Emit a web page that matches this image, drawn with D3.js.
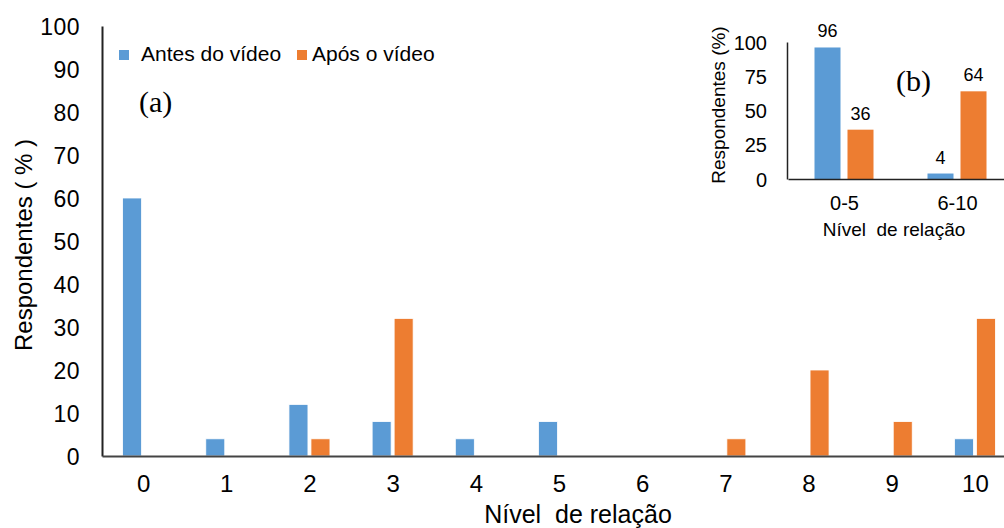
<!DOCTYPE html>
<html>
<head>
<meta charset="utf-8">
<script src="https://cdn.jsdelivr.net/npm/d3@7"></script>
<style>
  body { margin: 0; background: #fff; }
  text { font-family: "Liberation Sans", Arial, sans-serif; fill: #000; }
</style>
</head>
<body>
<script>
// main chart data
const levels = ["0", "1", "2", "3", "4", "5", "6", "7", "8", "9", "10"];
const antes = [60, 4, 12, 8, 4, 8, 0, 0, 0, 0, 4];
const apos = [0, 0, 4, 32, 0, 0, 0, 4, 20, 8, 32];
const yTicks = [0, 10, 20, 30, 40, 50, 60, 70, 80, 90, 100];

// inset data
const groups = ["0-5", "6-10"];
const antesGroup = [96, 4];
const aposGroup = [36, 64];
const insetTicks = [0, 25, 50, 75, 100];

const seriesNames = ["Antes do vídeo", "Após o vídeo"];
const blue = "#5b9bd5";
const orange = "#ed7d31";

const width = 1004;
const height = 528;
const svg = d3.select("body").append("svg").attr("width", width).attr("height", height);
const serif = "'Liberation Serif', 'Times New Roman', serif";

// ---- main chart ----
const x = d3.scaleBand().domain(levels).range([102, 1017]);
const y = d3.scaleLinear().domain([0, 100]).range([456, 26]);

const yAxis = svg.append("g").attr("transform", "translate(102,0)")
  .call(d3.axisLeft(y).tickValues(yTicks).tickSize(0).tickPadding(22));
yAxis.select(".domain").attr("stroke", "#222").attr("stroke-width", 2);
yAxis.selectAll("text").style("font-size", "23px").style("letter-spacing", "0.5px").attr("dy", "0.35em");

const bars = svg.append("g");
bars.selectAll(".antes").data(antes).enter().append("rect")
  .attr("x", (d, i) => x(levels[i]) + x.bandwidth() / 2 - 21)
  .attr("width", 19)
  .attr("y", d => y(d))
  .attr("height", d => y(0) - y(d))
  .attr("fill", blue).attr("stroke", "#fff").attr("stroke-width", 0.8);
bars.selectAll(".apos").data(apos).enter().append("rect")
  .attr("x", (d, i) => x(levels[i]) + x.bandwidth() / 2 + 1)
  .attr("width", 19)
  .attr("y", d => y(d))
  .attr("height", d => y(0) - y(d))
  .attr("fill", orange).attr("stroke", "#fff").attr("stroke-width", 0.8);

const xAxis = svg.append("g").attr("transform", "translate(0,456)")
  .call(d3.axisBottom(x).tickSize(0).tickPadding(19));
xAxis.select(".domain").attr("stroke", "#444").attr("stroke-width", 2);
xAxis.selectAll("text").style("font-size", "24px");

svg.append("text").attr("x", 578).attr("y", 523).attr("text-anchor", "middle")
  .style("font-size", "25px").attr("xml:space", "preserve").text("Nível  de relação");
svg.append("text").attr("transform", "translate(32,245) rotate(-90)").attr("text-anchor", "middle")
  .style("font-size", "24px").attr("xml:space", "preserve").text("Respondentes ( % )");

// legend
const legend = svg.append("g").attr("transform", "translate(119,55)");
const legendX = [0, 178];
const legendText = [22, 193];
legend.selectAll("rect").data(seriesNames).enter().append("rect")
  .attr("x", (d, i) => legendX[i]).attr("y", -5).attr("width", 10).attr("height", 10)
  .attr("fill", (d, i) => i === 0 ? blue : orange);
legend.selectAll("text").data(seriesNames).enter().append("text")
  .attr("x", (d, i) => legendText[i]).attr("y", 6)
  .style("font-size", "21px").text(d => d);

svg.append("text").attr("x", 139).attr("y", 112)
  .style("font-family", serif).style("font-size", "30px").text("(a)");

// ---- inset chart ----
const xi = d3.scaleBand().domain(groups).range([788, 1014]);
const yi = d3.scaleLinear().domain([0, 100]).range([179, 42]);

const yiAxis = svg.append("g").attr("transform", "translate(787,0)")
  .call(d3.axisLeft(yi).tickValues(insetTicks).tickSize(0).tickPadding(20));
yiAxis.select(".domain").attr("stroke", "#222").attr("stroke-width", 1.5);
yiAxis.selectAll("text").style("font-size", "20px").attr("dy", "0.35em");

const inset = svg.append("g");
inset.selectAll(".antes").data(antesGroup).enter().append("rect")
  .attr("x", (d, i) => xi(groups[i]) + xi.bandwidth() / 2 - 30)
  .attr("width", 26)
  .attr("y", d => yi(d))
  .attr("height", d => yi(0) - yi(d))
  .attr("fill", blue);
inset.selectAll(".apos").data(aposGroup).enter().append("rect")
  .attr("x", (d, i) => xi(groups[i]) + xi.bandwidth() / 2 + 3)
  .attr("width", 26)
  .attr("y", d => yi(d))
  .attr("height", d => yi(0) - yi(d))
  .attr("fill", orange);

inset.selectAll(".lblA").data(antesGroup).enter().append("text")
  .attr("x", (d, i) => xi(groups[i]) + xi.bandwidth() / 2 - 17)
  .attr("y", d => yi(d) - 10)
  .attr("text-anchor", "middle").style("font-size", "18px").text(d => d);
inset.selectAll(".lblB").data(aposGroup).enter().append("text")
  .attr("x", (d, i) => xi(groups[i]) + xi.bandwidth() / 2 + 16)
  .attr("y", d => yi(d) - 10)
  .attr("text-anchor", "middle").style("font-size", "18px").text(d => d);

const xiAxis = svg.append("g").attr("transform", "translate(0,179)")
  .call(d3.axisBottom(xi).tickSize(0).tickPadding(17));
xiAxis.select(".domain").attr("stroke", "#222").attr("stroke-width", 1.5);
xiAxis.selectAll("text").style("font-size", "20px");

svg.append("text").attr("x", 894).attr("y", 236).attr("text-anchor", "middle")
  .style("font-size", "19px").attr("xml:space", "preserve").text("Nível  de relação");
svg.append("text").attr("transform", "translate(725,105) rotate(-90)").attr("text-anchor", "middle")
  .style("font-size", "19px").text("Respondentes (%)");

svg.append("text").attr("x", 896).attr("y", 91)
  .style("font-family", serif).style("font-size", "30px").text("(b)");
</script>
</body>
</html>
